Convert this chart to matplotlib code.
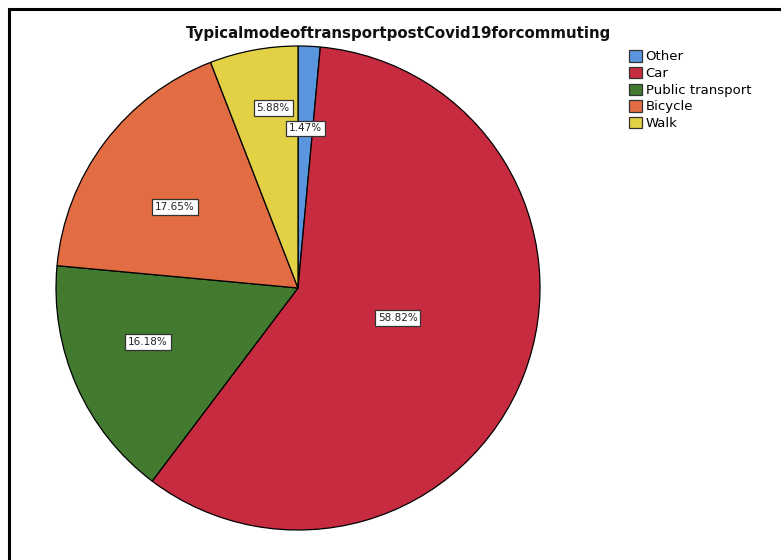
#!/usr/bin/env python3
# Pie chart - typical mode of transport post Covid19 for commuting
import numpy as np
import matplotlib
matplotlib.use('Agg')
from matplotlib import pyplot as plt
from matplotlib.patches import Rectangle, Patch

##################---------Data---------############################
categories = ['Other', 'Car', 'Public transport', 'Bicycle', 'Walk']
counts = [1, 40, 11, 12, 4]
title = 'TypicalmodeoftransportpostCovid19forcommuting'

##################---------Style---------###########################
colors = ['#5A96DD', '#C72B3F', '#427A30', '#E26D42', '#E2D145']
# label placement: radial distance and angle offset (deg) from wedge middle
label_dist = [0.66, 0.43, 0.66, 0.61, 0.75]
label_rot = [0.0, 4.5, -4.0, 3.6, -2.7]

fig = plt.figure(figsize=(7.81, 5.60), dpi=100)
W, H = 781.0, 560.0

# outer frame (only left and top edges visible)
fig.patches.append(Rectangle((9 / W, -0.1), 1.2, (H - 9) / H + 0.1,
                             transform=fig.transFigure, fill=False,
                             edgecolor='black', linewidth=2.2))

ax = fig.add_axes([56 / W, 30 / H, 484 / W, 484 / H])
wedges, texts, autotexts = ax.pie(counts, colors=colors, startangle=90,
                                  counterclock=False, radius=1.0,
                                  autopct='%1.2f%%', pctdistance=0.5,
                                  wedgeprops=dict(edgecolor='black', linewidth=0.9))
for w, t, d, r in zip(wedges, autotexts, label_dist, label_rot):
    ang = np.deg2rad((w.theta1 + w.theta2) / 2 + r)
    t.set_position((d * np.cos(ang), d * np.sin(ang)))
    t.set_fontsize(7.5)
    t.set_color('#222222')
    t.set_bbox(dict(boxstyle='square,pad=0.28', facecolor='white',
                    edgecolor='#333333', linewidth=0.9))
ax.set_xlim(-1, 1)
ax.set_ylim(-1, 1)
ax.set_aspect('equal')
ax.axis('off')

fig.text(398 / W, 1 - 33.5 / H, title, ha='center', va='center',
         fontsize=10.8, fontweight='bold', color='#111111')

handles = [Patch(facecolor=c, edgecolor='#333333', linewidth=0.9) for c in colors]
fig.legend(handles, categories, loc='upper left',
           bbox_to_anchor=(620 / W, 1 - 41 / H), frameon=False,
           fontsize=9.5, handlelength=0.95, handleheight=0.95,
           handletextpad=0.3, labelspacing=0.26, borderpad=0.2)

fig.savefig('out.png', dpi=100)
